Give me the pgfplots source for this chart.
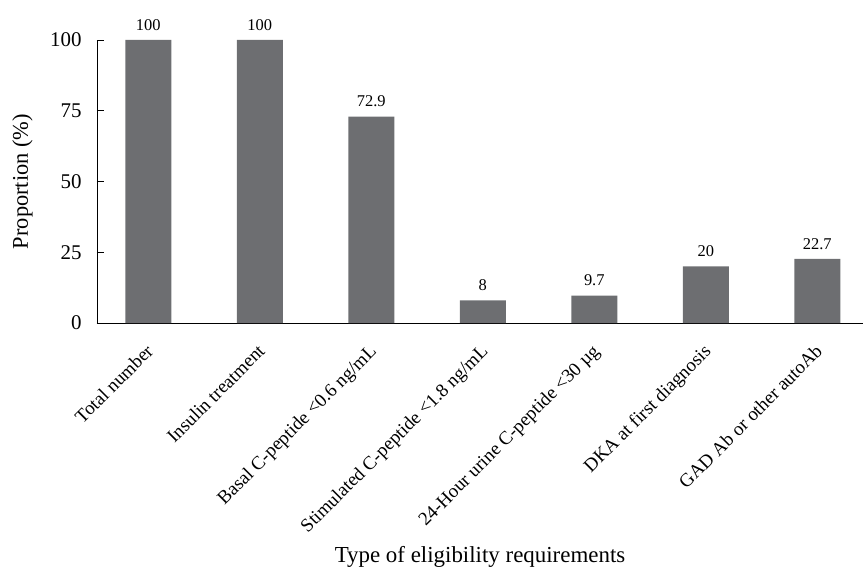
\documentclass[border=0pt]{standalone}
\usepackage{fontspec}
\setmainfont{Liberation Serif}
\usepackage{pgfplots}
\pgfplotsset{compat=1.18}
\definecolor{bargray}{HTML}{6D6E71}
\begin{document}
\begin{tikzpicture}
\useasboundingbox (-97bp,-244bp) rectangle (766bp,323bp);
\begin{axis}[
  at={(0,0)}, anchor=south west,
  scale only axis,
  width=766bp, height=283bp,
  xmin=-0.46, xmax=6.41,
  ymin=0, ymax=100,
  axis x line=bottom, axis y line=left,
  axis line style={-, black, line width=0.8pt},
  ytick={0,25,50,75,100},
  xtick={0,1,2,3,4,5,6},
  xticklabels={Total number, Insulin treatment, Basal C-peptide <0.6 ng/mL,
    Stimulated C-peptide <1.8 ng/mL, 24-Hour urine C-peptide <30 µg,
    DKA at first diagnosis, GAD Ab or other autoAb},
  x tick style={draw=none},
  y tick style={black, line width=0.8pt},
  tick align=inside,
  major tick length=7bp,
  /pgf/number format/assume math mode=true,
  yticklabel style={font=\fontsize{21}{25}\selectfont, xshift=-12bp},
  xticklabel style={font=\fontsize{19}{22}\selectfont, xshift=-3.3bp, yshift=-8.3bp, rotate=45, anchor=north east},
  xlabel={Type of eligibility requirements},
  ylabel={Proportion (\%)},
  xlabel style={font=\fontsize{23}{27}\selectfont, at={(axis description cs:0.5,0)}, anchor=base, yshift=-239bp},
  ylabel style={font=\fontsize{22.5}{26}\selectfont, at={(axis description cs:-0.0901,0.5)}, anchor=base},
  ybar, bar width=46bp,
  nodes near coords,
  nodes near coords style={font=\fontsize{16.5}{19}\selectfont, black, yshift=6bp},
  clip=false,
]
\addplot[fill=bargray, draw=none] coordinates {
  (0,100) (1,100) (2,72.9) (3,8) (4,9.7) (5,20) (6,22.7)
};
\end{axis}
\end{tikzpicture}
\end{document}
